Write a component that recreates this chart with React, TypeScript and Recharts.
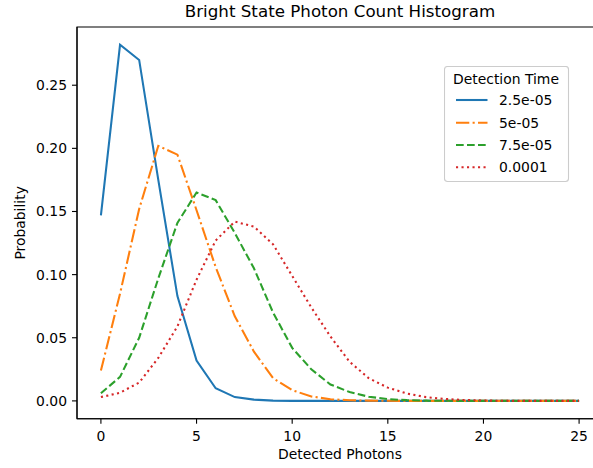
import React from "react"
import { LineChart, Line, XAxis, YAxis, Legend, ReferenceArea } from "recharts"

// detected photon counts on the x axis
const photonCounts = [0, 1, 2, 3, 4, 5, 6, 7, 8, 9, 10, 11, 12, 13, 14, 15, 16, 17, 18, 19, 20, 21, 22, 23, 24, 25]

const detectionTimes = ["2.5e-05", "5e-05", "7.5e-05", "0.0001"]

// probabilities, one list per detection time
const prob25us = [0.147, 0.282, 0.27, 0.175, 0.083, 0.032, 0.01, 0.003, 0.001, 0.0002, 0, 0, 0, 0, 0, 0, 0, 0, 0, 0, 0, 0, 0, 0, 0, 0]
const prob50us = [0.024, 0.085, 0.152, 0.202, 0.195, 0.151, 0.106, 0.067, 0.039, 0.018, 0.0085, 0.0035, 0.0013, 0.0005, 0.0002, 0.0001, 0, 0, 0, 0, 0, 0, 0, 0, 0, 0]
const prob75us = [0.006, 0.019, 0.05, 0.097, 0.141, 0.165, 0.159, 0.133, 0.105, 0.07, 0.042, 0.025, 0.013, 0.007, 0.0033, 0.0014, 0.0006, 0.0002, 0.0001, 0, 0, 0, 0, 0, 0, 0]
const prob100us = [0.003, 0.0065, 0.0145, 0.034, 0.059, 0.096, 0.127, 0.142, 0.138, 0.124, 0.099, 0.074, 0.051, 0.031, 0.018, 0.0105, 0.0058, 0.003, 0.0015, 0.0007, 0.0003, 0.0001, 0, 0, 0, 0]

const xTicks = [0, 5, 10, 15, 20, 25]
const yTicks = [0, 0.05, 0.1, 0.15, 0.2, 0.25]

const X_DOMAIN: [number, number] = [-1.25, 26.25]
const Y_DOMAIN: [number, number] = [-0.0141, 0.2961]

const FONT = "DejaVu Sans"
const LW = 2.08

const styles = [
  { key: "t1", color: "#1f77b4", dash: undefined },
  { key: "t2", color: "#ff7f0e", dash: "13.3 3.3 2.1 3.3" },
  { key: "t3", color: "#2ca02c", dash: "7.7 3.3" },
  { key: "t4", color: "#d62728", dash: "2.1 3.4" },
]

const data = photonCounts.map((n, i) => ({
  n,
  t1: prob25us[i],
  t2: prob50us[i],
  t3: prob75us[i],
  t4: prob100us[i],
}))

function LegendBox() {
  const rows = [34, 56.7, 79, 101.3]
  return (
    <svg width={126} height={117} style={{ display: "block" }}>
      <rect x={0.5} y={0.5} width={124} height={115} rx={3} fill="rgba(255,255,255,0.8)" stroke="#cccccc" strokeWidth={1.1} />
      <text x={62} y={17.5} textAnchor="middle" fontFamily={FONT} fontSize={13.9} fill="#000">
        Detection Time
      </text>
      {styles.map((s, i) => (
        <g key={s.key}>
          <line x1={12} x2={43.5} y1={rows[i]} y2={rows[i]} stroke={s.color} strokeWidth={LW} strokeDasharray={s.dash} />
          <text x={55} y={rows[i] + 5} fontFamily={FONT} fontSize={13.9} fill="#000">
            {detectionTimes[i]}
          </text>
        </g>
      ))}
    </svg>
  )
}

function XLabel(props: any) {
  const vb = props.viewBox
  const cx = vb.x + vb.width / 2
  return (
    <text x={cx} y={459} textAnchor="middle" fontFamily={FONT} fontSize={13.9} fill="#000">
      Detected Photons
    </text>
  )
}

function YLabel(props: any) {
  const vb = props.viewBox
  const cy = vb.y + vb.height / 2
  const bx = 25
  return (
    <text x={bx} y={cy} transform={`rotate(-90, ${bx}, ${cy})`} textAnchor="middle" fontFamily={FONT} fontSize={13.9} fill="#000">
      Probability
    </text>
  )
}

export default function App() {
  const tickStyle = { fill: "#000", fontSize: 13.9, fontFamily: FONT }
  return (
    <div style={{ position: "fixed", left: 0, top: 0, width: 593, height: 468, overflow: "hidden", background: "#fff" }}>
      <div
        style={{
          position: "absolute",
          left: 0,
          top: 1,
          width: 680,
          textAlign: "center",
          fontFamily: FONT,
          fontSize: 16.7,
          color: "#000",
          zIndex: 2,
        }}
      >
        Bright State Photon Count Histogram
      </div>
      <LineChart width={620} height={468} data={data} margin={{ top: 27, right: 17, bottom: 0, left: 0 }}>
        <XAxis
          dataKey="n"
          type="number"
          domain={X_DOMAIN}
          ticks={xTicks}
          allowDataOverflow
          height={49.3}
          tick={tickStyle}
          tickSize={5}
          tickMargin={7}
          axisLine={{ stroke: "#000", strokeWidth: 1.1 }}
          tickLine={{ stroke: "#000", strokeWidth: 1.1 }}
          label={XLabel}
        />
        <YAxis
          type="number"
          domain={Y_DOMAIN}
          ticks={yTicks}
          allowDataOverflow
          width={77}
          tick={tickStyle}
          tickSize={5}
          tickMargin={5}
          tickFormatter={(v: number) => v.toFixed(2)}
          axisLine={{ stroke: "#000", strokeWidth: 1.1 }}
          tickLine={{ stroke: "#000", strokeWidth: 1.1 }}
          label={YLabel}
        />
        {styles.map((s, i) => (
          <Line
            key={s.key}
            dataKey={s.key}
            name={detectionTimes[i]}
            type="linear"
            stroke={s.color}
            strokeWidth={LW}
            strokeDasharray={s.dash}
            dot={false}
            activeDot={false}
            isAnimationActive={false}
          />
        ))}
        <ReferenceArea
          x1={X_DOMAIN[0]}
          x2={X_DOMAIN[1]}
          y1={Y_DOMAIN[0]}
          y2={Y_DOMAIN[1]}
          fill="none"
          fillOpacity={0}
          stroke="#000"
          strokeWidth={1.1}
          ifOverflow="visible"
        />
        <Legend
          layout="horizontal"
          verticalAlign="middle"
          align="center"
          content={LegendBox}
          wrapperStyle={{ left: 444, top: 66, width: 126, height: 117, right: "auto", bottom: "auto" }}
        />
      </LineChart>
    </div>
  )
}
